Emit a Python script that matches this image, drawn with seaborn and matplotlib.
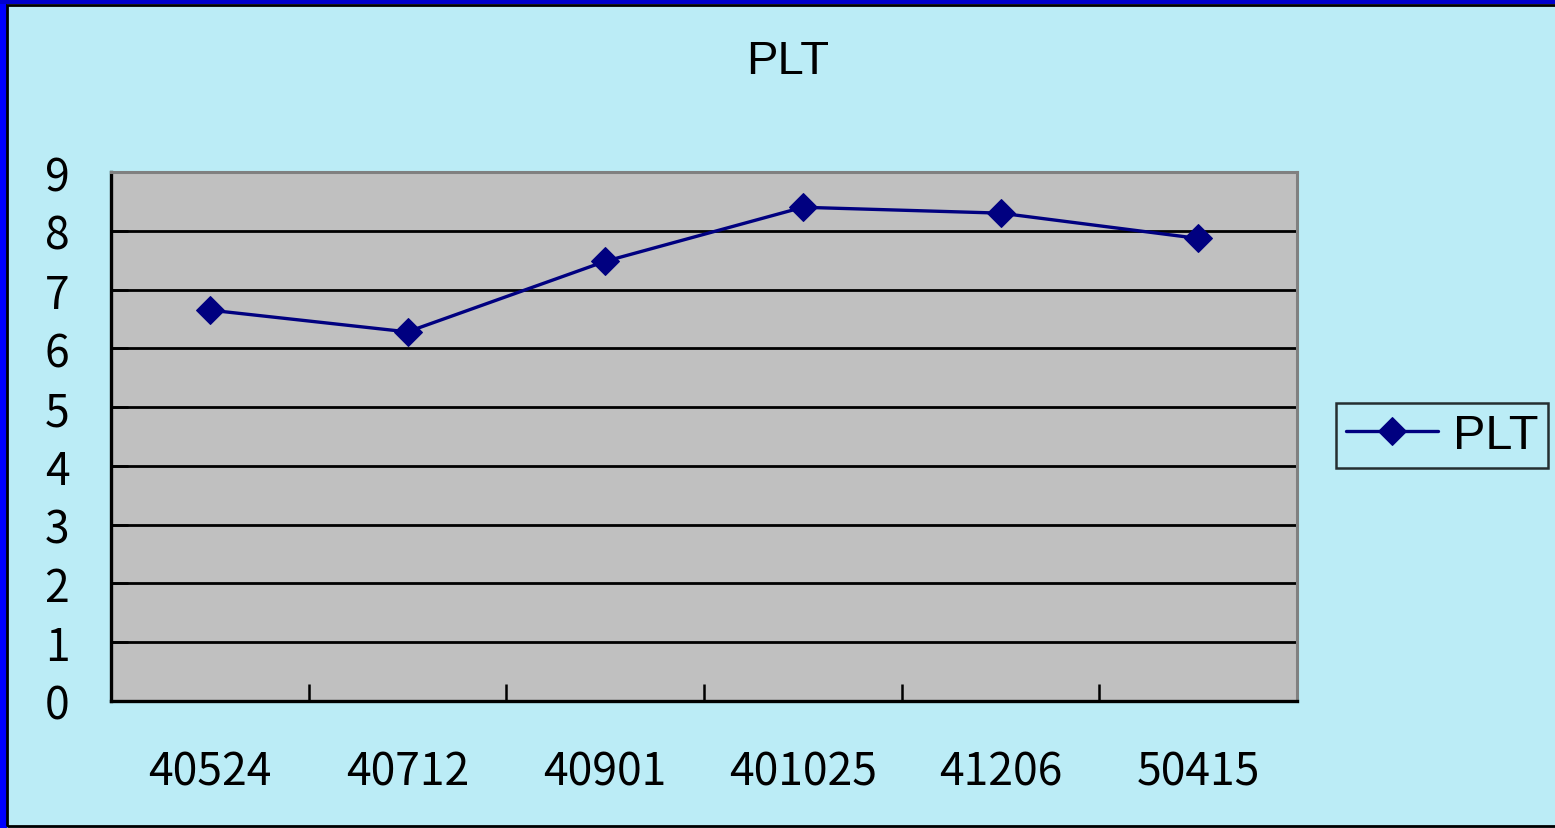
import matplotlib
matplotlib.use("Agg")
import matplotlib.pyplot as plt
import seaborn as sns
import pandas as pd
from matplotlib.patches import Rectangle

categories = ["40524", "40712", "40901", "401025", "41206", "50415"]
plt_values = [6.65, 6.28, 7.48, 8.40, 8.30, 7.87]
y_ticks = [0, 1, 2, 3, 4, 5, 6, 7, 8, 9]
series_name = "PLT"

BG = "#BBECF6"
PLOT_BG = "#C0C0C0"
NAVY = "#000080"

sns.set_theme(style="white")
plt.rcParams['font.family'] = ['Liberation Sans', 'DejaVu Sans']
plt.rcParams['text.color'] = 'black'

df = pd.DataFrame({"date": categories, "value": plt_values, "series": series_name})

fig = plt.figure(figsize=(15.55, 8.29), dpi=100, facecolor=BG)
ax = fig.add_axes([111/1555, 1-702/829, (1297-111)/1555, (702-173)/829])
ax.set_facecolor(PLOT_BG)

sns.lineplot(data=df, x="date", y="value", hue="series", palette=[NAVY],
             sort=False, marker="D", markersize=14, markeredgecolor=NAVY,
             linewidth=2.4, ax=ax, zorder=5)

n = len(categories)
ax.set_xlim(-0.5, n - 0.5)
ax.set_ylim(min(y_ticks), max(y_ticks))
ax.set_xlabel("")
ax.set_ylabel("")

# gridlines at y ticks
for yv in y_ticks[1:-1]:
    ax.axhline(yv, color="black", linewidth=2.0, zorder=1)

# x ticks: marks at category boundaries, labels at centers
ax.set_xticks([i - 0.5 for i in range(n + 1)])
ax.set_xticklabels([])
ax.set_xticks(list(range(n)), minor=True)
ax.set_xticklabels(categories, minor=True,
                   fontdict={"family": ["Noto Sans CJK JP", "DejaVu Sans"]}, fontsize=32)
ax.tick_params(axis="x", which="major", direction="in", length=12, width=1.8,
               color="black", bottom=True)
ax.tick_params(axis="x", which="minor", length=0, pad=34, labelcolor="black", bottom=True)

ax.set_yticks(y_ticks)
ax.set_yticklabels([str(v) for v in y_ticks],
                   fontdict={"family": ["Noto Sans CJK JP", "DejaVu Sans"]}, fontsize=32)
ax.tick_params(axis="y", which="major", direction="in", length=12, width=1.8,
               color="black", pad=30, labelcolor="black", left=True)

for side in ["left", "bottom"]:
    ax.spines[side].set_color("black")
    ax.spines[side].set_linewidth(2.4)
for side in ["top", "right"]:
    ax.spines[side].set_color("#808080")
    ax.spines[side].set_linewidth(2.2)
    ax.spines[side].set_visible(True)

# title
fig.text(788/1555, 1-62/829, "PLT", ha="center", va="center", fontsize=34, color="black")

# legend
if ax.get_legend():
    ax.get_legend().remove()
handles, labels = ax.get_legend_handles_labels()
leg = ax.legend(handles, labels, loc="center",
                bbox_to_anchor=(1442/1555, 1-436.5/829), bbox_transform=fig.transFigure,
                fontsize=35, frameon=True, fancybox=False, handlelength=1.9,
                handletextpad=0.3, borderpad=0.2, borderaxespad=0, labelcolor="black")
leg.get_frame().set_edgecolor("black")
leg.get_frame().set_linewidth(1.8)
leg.get_frame().set_facecolor(BG)

# figure border
fig.patches.append(Rectangle((0, 0), 7/1555, 1, transform=fig.transFigure,
                             facecolor="#0000FF", edgecolor="none", zorder=10))
fig.patches.append(Rectangle((0, 1-5/829), 1, 5/829, transform=fig.transFigure,
                             facecolor="#0000CC", edgecolor="none", zorder=10))
fig.patches.append(Rectangle((7/1555, 2/829), 1, 1-8/829, transform=fig.transFigure,
                             facecolor="none", edgecolor="black", linewidth=2, zorder=10))

fig.savefig("out.png", dpi=100, facecolor=BG)
